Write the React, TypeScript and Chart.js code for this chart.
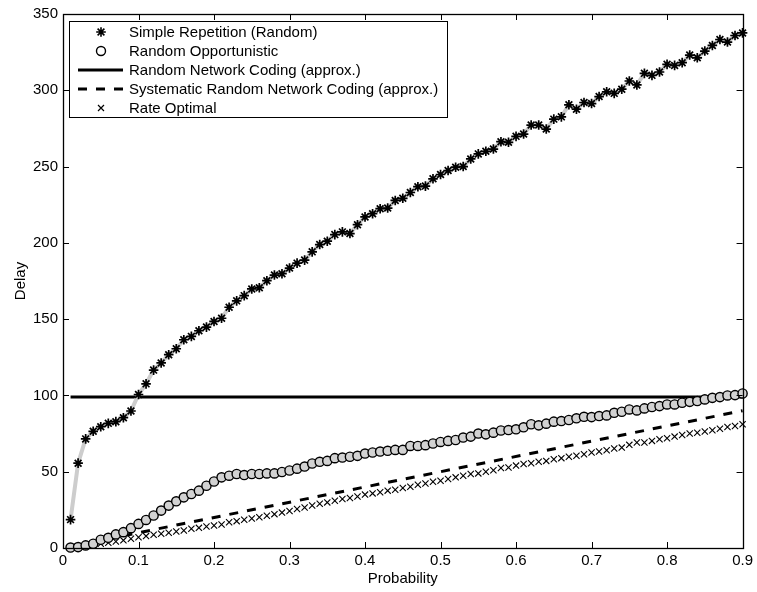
import React, { useEffect, useRef } from 'react';
import { Chart, registerables } from 'chart.js';

Chart.register(...registerables);

// ---------- data ----------
const probability = [
  0.01, 0.02, 0.03, 0.04, 0.05, 0.06, 0.07, 0.08, 0.09, 0.1,
  0.11, 0.12, 0.13, 0.14, 0.15, 0.16, 0.17, 0.18, 0.19, 0.2,
  0.21, 0.22, 0.23, 0.24, 0.25, 0.26, 0.27, 0.28, 0.29, 0.3,
  0.31, 0.32, 0.33, 0.34, 0.35, 0.36, 0.37, 0.38, 0.39, 0.4,
  0.41, 0.42, 0.43, 0.44, 0.45, 0.46, 0.47, 0.48, 0.49, 0.5,
  0.51, 0.52, 0.53, 0.54, 0.55, 0.56, 0.57, 0.58, 0.59, 0.6,
  0.61, 0.62, 0.63, 0.64, 0.65, 0.66, 0.67, 0.68, 0.69, 0.7,
  0.71, 0.72, 0.73, 0.74, 0.75, 0.76, 0.77, 0.78, 0.79, 0.8,
  0.81, 0.82, 0.83, 0.84, 0.85, 0.86, 0.87, 0.88, 0.89, 0.9,
];

const simpleRepetition = [
  18.6, 55.6, 71.5, 76.5, 79.5, 81.7, 82.8, 85.4, 89.8, 100.6,
  107.6, 116.6, 121.3, 126.7, 130.6, 136.5, 138.7, 142.4, 144.8, 148.5,
  150.6, 157.8, 162.0, 165.4, 169.8, 170.6, 175.2, 178.9, 179.8, 183.5,
  186.7, 188.7, 194.1, 198.9, 201.1, 205.4, 207.2, 206.1, 211.9, 217.0,
  219.1, 222.4, 222.8, 227.8, 229.2, 233.0, 236.8, 237.2, 242.0, 244.8,
  247.4, 249.6, 250.0, 255.0, 258.3, 260.0, 261.5, 266.3, 265.9, 269.8,
  271.3, 277.2, 277.2, 274.6, 281.1, 282.6, 290.5, 287.6, 292.0, 291.3,
  295.9, 299.0, 298.0, 300.7, 306.1, 303.5, 311.1, 309.8, 312.0, 317.0,
  316.3, 318.1, 323.1, 321.3, 325.7, 329.4, 333.3, 331.6, 335.9, 337.6,
];

const randomOpportunistic = [
  0.3, 0.6, 1.7, 2.8, 5.4, 6.7, 8.9, 10.4, 13.0, 15.8,
  18.4, 21.3, 24.5, 27.8, 30.6, 33.2, 35.4, 37.6, 40.8, 43.6,
  46.3, 47.4, 48.5, 47.8, 48.5, 48.5, 48.9, 48.9, 49.8, 50.8,
  52.0, 53.4, 55.4, 56.5, 57.1, 58.9, 59.3, 59.8, 60.4, 61.9,
  62.6, 63.2, 63.7, 64.3, 64.3, 66.9, 66.9, 67.4, 68.5, 69.5,
  70.2, 70.8, 72.4, 73.0, 75.0, 74.5, 75.6, 77.0, 77.3, 77.8,
  79.1, 81.1, 80.4, 81.5, 82.8, 83.2, 83.9, 85.0, 86.0, 85.8,
  86.5, 86.9, 88.6, 89.3, 90.8, 90.2, 91.5, 92.4, 93.0, 94.1,
  94.1, 95.2, 95.8, 96.3, 97.4, 98.4, 98.9, 100.0, 100.2, 101.3,
];

const rateOptimal = [
  0.3, 0.8, 1.5, 2.2, 2.8, 3.4, 4.3, 5.0, 6.1, 7.1,
  7.8, 8.7, 9.3, 10.0, 10.8, 11.5, 12.6, 13.2, 14.1, 14.7,
  15.4, 16.9, 17.6, 18.5, 19.3, 20.2, 21.2, 22.2, 23.2, 24.3,
  25.5, 26.6, 27.8, 29.0, 29.9, 31.0, 32.1, 32.8, 33.7, 35.0,
  35.8, 36.5, 37.6, 38.2, 39.3, 40.2, 41.5, 42.3, 43.4, 44.1,
  45.2, 46.3, 47.4, 48.5, 48.9, 50.0, 51.0, 52.4, 52.8, 54.0,
  55.0, 55.6, 56.5, 57.1, 58.2, 58.9, 59.8, 60.4, 61.5, 62.6,
  63.2, 64.1, 65.2, 65.8, 67.6, 69.1, 69.1, 70.2, 71.3, 71.9,
  73.0, 74.1, 75.0, 75.6, 76.3, 77.2, 78.2, 79.3, 80.0, 81.1,
];

// approximations (straight lines, given by their end points)
const rncX = [0.01, 0.9];
const rncY = [99, 99];
const srncX = [0.01, 0.9];
const srncY = [1, 90];

const xTickValues = [0, 0.1, 0.2, 0.3, 0.4, 0.5, 0.6, 0.7, 0.8, 0.9];
const yTickValues = [0, 50, 100, 150, 200, 250, 300, 350];

const legendLabels = [
  'Simple Repetition (Random)',
  'Random Opportunistic',
  'Random Network Coding (approx.)',
  'Systematic Random Network Coding (approx.)',
  'Rate Optimal',
];

const FONT = '"Liberation Sans", Arial, Helvetica, sans-serif';

const pts = (xs: number[], ys: number[]) => xs.map((x, i) => ({ x, y: ys[i] }));

// frame + inward ticks (MATLAB style)
const framePlugin = {
  id: 'frame',
  afterDatasetsDraw(chart: any) {
    const { ctx, chartArea } = chart;
    const { left, right, top, bottom } = chartArea;
    const xs = chart.scales.x;
    const ys = chart.scales.y;
    const tl = 6;
    ctx.save();
    ctx.strokeStyle = '#000';
    ctx.lineWidth = 1;
    ctx.beginPath();
    xTickValues.forEach((v) => {
      const px = Math.round(xs.getPixelForValue(v)) + 0.5;
      ctx.moveTo(px, bottom);
      ctx.lineTo(px, bottom - tl);
      ctx.moveTo(px, top);
      ctx.lineTo(px, top + tl);
    });
    yTickValues.forEach((v) => {
      const py = Math.round(ys.getPixelForValue(v)) + 0.5;
      ctx.moveTo(left, py);
      ctx.lineTo(left + tl, py);
      ctx.moveTo(right, py);
      ctx.lineTo(right - tl, py);
    });
    ctx.stroke();
    ctx.lineWidth = 1.3;
    ctx.strokeRect(Math.round(left) + 0.5, Math.round(top) + 0.5, Math.round(right - left), Math.round(bottom - top));
    ctx.restore();
  },
};

// legend box drawn like the original
const legendPlugin = {
  id: 'boxLegend',
  afterDraw(chart: any) {
    const { ctx } = chart;
    const bx = 69.5, by = 21.5, bw = 378, bh = 96;
    const rowY = [32, 51, 70, 89, 108];
    const mx = 101, lx0 = 78, lx1 = 123, tx = 129;
    ctx.save();
    ctx.fillStyle = '#fff';
    ctx.fillRect(bx, by, bw, bh);
    ctx.strokeStyle = '#000';
    ctx.lineWidth = 1;
    ctx.strokeRect(bx, by, bw, bh);
    ctx.font = `15px ${FONT}`;
    ctx.textBaseline = 'middle';
    ctx.fillStyle = '#000';
    legendLabels.forEach((lab, i) => {
      const y = rowY[i];
      ctx.save();
      ctx.strokeStyle = '#000';
      ctx.fillStyle = '#000';
      if (i === 0) {
        ctx.lineWidth = 1.6;
        ctx.beginPath();
        for (let k = 0; k < 4; k++) {
          const a = (k * Math.PI) / 4;
          ctx.moveTo(mx - 4.8 * Math.cos(a), y - 4.8 * Math.sin(a));
          ctx.lineTo(mx + 4.8 * Math.cos(a), y + 4.8 * Math.sin(a));
        }
        ctx.stroke();
      } else if (i === 1) {
        ctx.lineWidth = 1.4;
        ctx.beginPath();
        ctx.arc(mx, y, 4.5, 0, Math.PI * 2);
        ctx.stroke();
      } else if (i === 2) {
        ctx.lineWidth = 3;
        ctx.beginPath();
        ctx.moveTo(lx0, y);
        ctx.lineTo(lx1, y);
        ctx.stroke();
      } else if (i === 3) {
        ctx.lineWidth = 3;
        ctx.setLineDash([9, 9]);
        ctx.beginPath();
        ctx.moveTo(lx0, y);
        ctx.lineTo(lx1, y);
        ctx.stroke();
      } else {
        ctx.lineWidth = 1.2;
        ctx.beginPath();
        ctx.moveTo(mx - 3, y - 3);
        ctx.lineTo(mx + 3, y + 3);
        ctx.moveTo(mx + 3, y - 3);
        ctx.lineTo(mx - 3, y + 3);
        ctx.stroke();
      }
      ctx.restore();
      ctx.fillText(lab, tx, y + 1);
    });
    ctx.restore();
  },
};

export default function App() {
  const canvasRef = useRef<HTMLCanvasElement | null>(null);

  useEffect(() => {
    const canvas = canvasRef.current;
    if (!canvas) return;
    const chart = new Chart(canvas, {
      type: 'scatter',
      data: {
        datasets: [
          {
            label: legendLabels[2],
            data: pts(rncX, rncY),
            showLine: true,
            borderColor: '#000',
            borderWidth: 3,
            pointRadius: 0,
            order: 5,
          },
          {
            label: legendLabels[3],
            data: pts(srncX, srncY),
            showLine: true,
            borderColor: '#000',
            borderWidth: 3,
            borderDash: [9, 9],
            pointRadius: 0,
            order: 4,
          },
          {
            label: legendLabels[4],
            data: pts(probability, rateOptimal),
            showLine: false,
            pointStyle: 'crossRot',
            pointRadius: 4.4,
            pointBorderColor: '#000',
            pointBorderWidth: 1.1,
            order: 3,
          },
          {
            label: legendLabels[1],
            data: pts(probability, randomOpportunistic),
            showLine: true,
            borderColor: '#cfcfcf',
            borderWidth: 4,
            pointStyle: 'circle',
            pointRadius: 4.6,
            pointBackgroundColor: '#d2d2d2',
            pointBorderColor: '#000',
            pointBorderWidth: 1.4,
            order: 2,
          },
          {
            label: legendLabels[0],
            data: pts(probability, simpleRepetition),
            showLine: true,
            borderColor: '#cdcdcd',
            borderWidth: 4,
            pointStyle: 'star',
            pointRadius: 4.8,
            pointBorderColor: '#000',
            pointBorderWidth: 1.7,
            order: 1,
          },
        ],
      },
      options: {
        responsive: false,
        animation: false,
        devicePixelRatio: 1,
        clip: false as any,
        layout: { padding: { left: 0, top: 11, right: 11, bottom: 0 } },
        plugins: {
          legend: { display: false },
          tooltip: { enabled: false },
        },
        scales: {
          x: {
            type: 'linear',
            min: 0,
            max: 0.9,
            afterFit: (s: any) => { s.height = 44; },
            afterBuildTicks: (s: any) => { s.ticks = xTickValues.map((v) => ({ value: v })); },
            ticks: {
              color: '#000',
              font: { family: FONT, size: 15 },
              padding: 4,
              maxRotation: 0,
              callback: (v: any) => String(Number(Number(v).toFixed(1))),
            },
            grid: { display: false, drawTicks: false },
            border: { display: false },
            title: {
              display: true,
              text: 'Probability',
              color: '#000',
              font: { family: FONT, size: 15 },
              padding: { top: 0, bottom: 4 },
            },
          },
          y: {
            type: 'linear',
            min: 0,
            max: 350,
            afterFit: (s: any) => { s.width = 63; },
            afterBuildTicks: (s: any) => { s.ticks = yTickValues.map((v) => ({ value: v })); },
            ticks: {
              color: '#000',
              font: { family: FONT, size: 15 },
              padding: 5,
            },
            grid: { display: false, drawTicks: false },
            border: { display: false },
            title: {
              display: true,
              text: 'Delay',
              color: '#000',
              font: { family: FONT, size: 15 },
              padding: { top: 12, bottom: 0 },
            },
          },
        },
      },
      plugins: [framePlugin, legendPlugin],
    });
    return () => chart.destroy();
  }, []);

  return (
    <div style={{ position: 'fixed', left: 0, top: 0, width: 757, height: 592, background: '#fff' }}>
      <canvas ref={canvasRef} width={757} height={592} style={{ width: 757, height: 592 }} />
    </div>
  );
}
